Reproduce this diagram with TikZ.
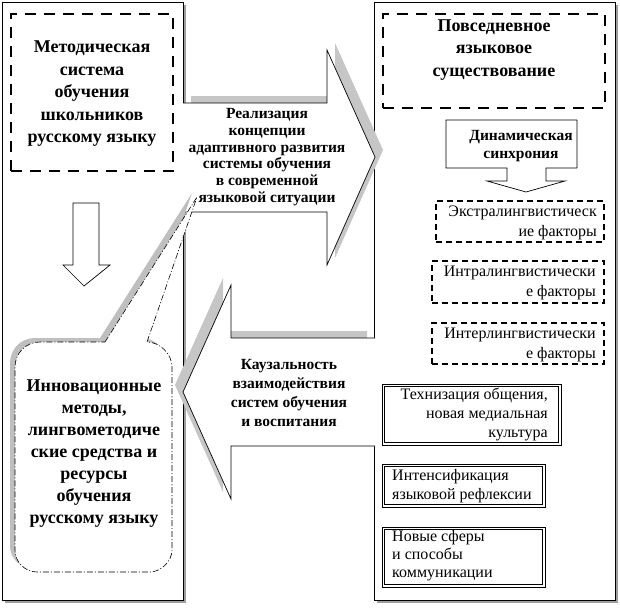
\documentclass[tikz,border=0pt]{standalone}
\usepackage{fontspec}
\setmainfont{Liberation Serif}
\begin{document}
\begin{tikzpicture}[x=1pt,y=-1pt,
  panel/.style={draw=black, line width=0.8pt, fill=white, inner sep=0pt, outer sep=0pt},
  pshadow/.style={fill=gray!75, draw=none, inner sep=0pt, outer sep=0pt},
  ashadow/.style={fill=gray!45, draw=none},
  arrowbody/.style={draw=black, line width=0.7pt, fill=white},
  bigdash/.style={draw=black, line width=2.4pt, dash pattern=on 11pt off 8pt, inner sep=0pt, outer sep=0pt},
  factor/.style={draw=black, line width=1.7pt, dash pattern=on 6pt off 4pt, inner sep=0pt, outer sep=0pt},
  dblout/.style={draw=black, fill=white, line width=0.7pt, inner sep=0pt, outer sep=0pt},
  dblin/.style={draw=black, line width=0.7pt, inner sep=0pt, outer sep=0pt},
  dashdot/.style={draw=black, line width=0.6pt, dash pattern=on 6pt off 2pt on 1pt off 2pt},
  bigtxt/.style={font=\fontsize{18}{22.5}\selectfont\bfseries, align=center, inner sep=0pt},
  midtxt/.style={font=\fontsize{15.5}{16.7}\selectfont\bfseries, align=center, inner sep=0pt},
  smalltxt/.style={font=\fontsize{16}{20}\selectfont, inner sep=0pt}
]
\useasboundingbox (0,0) rectangle (620,608);

% panels
\node[pshadow, minimum width=181pt, minimum height=598pt] (lshadow) at (95.5,304) {};
\node[panel, minimum width=181pt, minimum height=598pt] (lpanel) at (92.5,301) {};
\node[pshadow, minimum width=241pt, minimum height=598pt] (rshadow) at (497.5,304) {};
\node[panel, minimum width=241pt, minimum height=598pt] (rpanel) at (494.5,301) {};

% right (upper) arrow
\fill[ashadow, shift={(8,-7)}] (183,103) -- (327,103) -- (327,50) -- (375,157) -- (327,265) -- (327,212) -- (183,212) -- cycle;
\draw[arrowbody] (183,103) -- (327,103) -- (327,50) -- (375,157) -- (327,265) -- (327,212) -- (183,212);
\node[midtxt] (realiz) at (267,157) {Реализация\\концепции\\адаптивного развития\\системы обучения\\в современной\\языковой ситуации};

% left (lower) arrow
\fill[ashadow, shift={(-8,-7)}] (375,338) -- (231,338) -- (231,285) -- (183,392) -- (231,499) -- (231,446) -- (375,446) -- cycle;
\draw[arrowbody] (375,338) -- (231,338) -- (231,285) -- (183,392) -- (231,499) -- (231,446) -- (375,446);
\node[midtxt, font=\fontsize{15.5}{19}\selectfont\bfseries] (kauz) at (289,393) {Каузальность\\взаимодействия\\систем обучения\\и воспитания};

% left panel content
\node[bigdash, minimum width=162pt, minimum height=157pt] (metbox) at (92,92.5) {};
\node[bigtxt] (mettxt) at (92,94) {Методическая\\система\\обучения\\школьников\\русскому языку};

\draw[arrowbody] (73,203) -- (99,203) -- (99,265) -- (110,265) -- (84,286) -- (63,265) -- (73,265) -- cycle;

% callout
\fill[gray!50, shift={(-5,-4)}] (105,342) -- (197,197) -- (147,342) .. controls (160,342) and (172,354) .. (172,367) -- (172,550) .. controls (172,562) and (160,572) .. (150,572) -- (37,572) .. controls (25,572) and (15,562) .. (15,550) -- (15,367) .. controls (15,354) and (25,342) .. (40,342) -- cycle;
\fill[white] (105,342) -- (197,197) -- (147,342) .. controls (160,342) and (172,354) .. (172,367) -- (172,550) .. controls (172,562) and (160,572) .. (150,572) -- (37,572) .. controls (25,572) and (15,562) .. (15,550) -- (15,367) .. controls (15,354) and (25,342) .. (40,342) -- cycle;
\draw[dashdot] (105,342) -- (197,197) -- (147,342) .. controls (160,342) and (172,354) .. (172,367) -- (172,550) .. controls (172,562) and (160,572) .. (150,572) -- (37,572) .. controls (25,572) and (15,562) .. (15,550) -- (15,367) .. controls (15,354) and (25,342) .. (40,342) -- cycle;
\node[bigtxt, font=\fontsize{18}{22}\selectfont\bfseries] (innov) at (94,454) {Инновационные\\методы,\\лингвометодиче\\ские средства и\\ресурсы\\обучения\\русскому языку};

% right panel content
\node[bigdash, minimum width=222pt, minimum height=94pt] (povbox) at (494,61) {};
\node[bigtxt] (povtxt) at (494,50) {Повседневное\\языковое\\существование};

\draw[arrowbody] (446,120) -- (577,120) -- (577,168) -- (546,168) -- (546,181) -- (565,181) -- (526,192) -- (487,181) -- (507,181) -- (507,168) -- (446,168) -- cycle;
\node[midtxt, font=\fontsize{15.5}{18}\selectfont\bfseries] (dintxt) at (521,146) {Динамическая\\синхрония};

\node[factor, minimum width=168pt, minimum height=41pt] (f1) at (520,221.5) {};
\node[smalltxt, align=right, anchor=east] (f1t) at (597,223) {Экстралингвистическ\\ие факторы};
\node[factor, minimum width=172pt, minimum height=42pt] (f2) at (518,282) {};
\node[smalltxt, align=right, anchor=east] (f2t) at (596,283) {Интралингвистически\\е факторы};
\node[factor, minimum width=172pt, minimum height=41pt] (f3) at (518,343.5) {};
\node[smalltxt, align=right, anchor=east] (f3t) at (596,345) {Интерлингвистически\\е факторы};

\node[dblout, minimum width=179pt, minimum height=61pt] (ba) at (471.5,414.5) {};
\node[dblin, minimum width=174pt, minimum height=56pt] (bain) at (471.5,414.5) {};
\node[smalltxt, font=\fontsize{16}{19}\selectfont, align=right, anchor=east] (bat) at (548,414) {Технизация общения,\\новая медиальная\\культура};
\node[dblout, minimum width=163pt, minimum height=43pt] (bb) at (463.5,485.5) {};
\node[dblin, minimum width=158pt, minimum height=38pt] (bbin) at (463.5,485.5) {};
\node[smalltxt, font=\fontsize{16}{18.5}\selectfont, align=left, anchor=west] (bbt) at (392,486) {Интенсификация\\языковой рефлексии};
\node[dblout, minimum width=163pt, minimum height=60pt] (bc) at (463.5,557) {};
\node[dblin, minimum width=158pt, minimum height=55pt] (bcin) at (463.5,557) {};
\node[smalltxt, font=\fontsize{16}{18}\selectfont, align=left, anchor=west] (bct) at (392,556) {Новые сферы\\и способы\\коммуникации};
\end{tikzpicture}
\end{document}
